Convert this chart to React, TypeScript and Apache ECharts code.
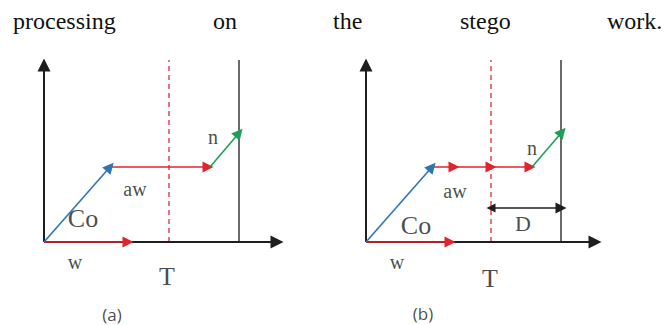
import { useEffect, useRef } from 'react';
import * as echarts from 'echarts';

// Sentence fragment above the figure (word, left edge in px)
const sentenceWords = ['processing', 'on', 'the', 'stego', 'work.'];
const sentenceX = [13, 213, 333, 460, 607];

// Panel (a): coordinates relative to the origin of its axes, y pointing up
const axesA = [[[0, 0], [0, 177]], [[0, 0], [233, 0]]];
const redA = [[[0, 0], [84, 0]], [[66, 75], [164, 75]]];
const blueA = [[[0, 0], [66, 75]]];
const greenA = [[[166, 75], [195, 109]]];
const thresholdA = [[[125, 0], [125, 182]]];
const boundaryA = [[[195, 0], [195, 182]]];
const labelsSmallA = [['n', 169, 105], ['aw', 91, 53], ['w', 31, -20]];
const labelsBigA = [['Co', 39, 24], ['T', 123, -34]];
const captionA = [['(a)', 68, -72]];

// Panel (b)
const axesB = [[[0, 0], [0, 177]], [[0, 0], [229, 0]]];
const redB = [[[0, 0], [84, 0]], [[66, 75], [88, 75]], [[88, 75], [125, 75]], [[125, 75], [164, 75]]];
const blueB = [[[0, 0], [66, 75]]];
const greenB = [[[166, 75], [196, 110]]];
const thresholdB = [[[125, 0], [125, 182]]];
const boundaryB = [[[195, 0], [195, 182]]];
const distanceB = [[[125, 34], [195, 34]]];
const labelsSmallB = [['n', 166, 94], ['aw', 89, 51], ['w', 31, -20]];
const labelsMidB = [['D', 157, 19]];
const labelsBigB = [['Co', 50, 17], ['T', 124, -36]];
const captionB = [['(b)', 57, -71]];

const RED = '#e3232b';
const BLUE = '#2f74b5';
const GREEN = '#1f9f55';
const BLACK = '#1e1e1e';
const GRAY = '#6a6a6a';
const DASH = '#e0454f';
const SERIF = '"Liberation Serif", "Times New Roman", serif';

type Seg = number[][][];

function segs(
  data: Seg,
  grid: number,
  color: string,
  width: number,
  arrows: 'end' | 'both' | 'none',
  size: number[] = [9, 11],
  dashed = false
) {
  return {
    type: 'lines',
    coordinateSystem: 'cartesian2d',
    xAxisIndex: grid,
    yAxisIndex: grid,
    silent: true,
    symbol: arrows === 'end' ? ['none', 'triangle'] : arrows === 'both' ? ['triangle', 'triangle'] : ['none', 'none'],
    symbolSize: size,
    symbolOffset: [0, '50%'],
    lineStyle: { color, width, type: dashed ? [5, 4] : 'solid', opacity: 1 },
    itemStyle: { color },
    data: data.map((c) => ({ coords: c })),
    z: 3,
  };
}

function labels(data: (string | number)[][], grid: number, size: number, family: string) {
  return {
    type: 'scatter',
    xAxisIndex: grid,
    yAxisIndex: grid,
    silent: true,
    symbolSize: 1,
    itemStyle: { color: 'rgba(0,0,0,0)' },
    label: {
      show: true,
      position: 'inside',
      formatter: '{b}',
      color: '#1a1a1a',
      fontSize: size,
      fontFamily: family,
      align: 'center',
      verticalAlign: 'middle',
    },
    data: data.map(([t, x, y]) => ({ name: t as string, value: [x, y] })),
    z: 5,
  };
}

export default function App() {
  const ref = useRef<HTMLDivElement>(null);
  useEffect(() => {
    if (!ref.current) return;
    const chart = echarts.init(ref.current, undefined, { renderer: 'svg' });
    const axisCfg = (grid: number, min: number, max: number) => ({
      type: 'value',
      gridIndex: grid,
      min,
      max,
      show: false,
    });
    chart.setOption({
      animation: false,
      backgroundColor: '#ffffff',
      grid: [
        { left: 0, top: 52, width: 300, height: 273 },
        { left: 322, top: 52, width: 300, height: 273 },
      ],
      xAxis: [axisCfg(0, -44, 256), axisCfg(1, -44, 256)],
      yAxis: [axisCfg(0, -83, 190), axisCfg(1, -83, 190)],
      graphic: sentenceWords.map((w, i) => ({
        type: 'text',
        x: sentenceX[i],
        y: 21,
        silent: true,
        style: {
          text: w,
          font: `24px ${SERIF}`,
          fill: '#111111',
          align: 'left',
          verticalAlign: 'middle',
          textAlign: 'left',
          textVerticalAlign: 'middle',
        },
      })),
      series: [
        // panel (a)
        segs(thresholdA, 0, DASH, 1.5, 'none', [0, 0], true),
        segs(boundaryA, 0, GRAY, 2, 'none', [0, 0]),
        segs(axesA, 0, BLACK, 2, 'end', [11, 13]),
        segs(redA, 0, RED, 1.6, 'end'),
        segs(blueA, 0, BLUE, 1.6, 'end'),
        segs(greenA, 0, GREEN, 1.6, 'end'),
        labels(labelsSmallA, 0, 20, SERIF),
        labels(labelsBigA, 0, 26, SERIF),
        labels(captionA, 0, 17, '"Open Sans", sans-serif'),
        // panel (b)
        segs(thresholdB, 1, DASH, 1.5, 'none', [0, 0], true),
        segs(boundaryB, 1, GRAY, 2, 'none', [0, 0]),
        segs(axesB, 1, BLACK, 2, 'end', [11, 13]),
        segs(redB, 1, RED, 1.6, 'end'),
        segs(blueB, 1, BLUE, 1.6, 'end'),
        segs(greenB, 1, GREEN, 1.6, 'end'),
        segs(distanceB, 1, BLACK, 1.6, 'both', [9, 11]),
        labels(labelsSmallB, 1, 20, SERIF),
        labels(labelsMidB, 1, 22, SERIF),
        labels(labelsBigB, 1, 26, SERIF),
        labels(captionB, 1, 17, '"Open Sans", sans-serif'),
      ],
    });
    return () => chart.dispose();
  }, []);
  return (
    <div
      ref={ref}
      style={{ position: 'fixed', left: 0, top: 0, width: 664, height: 325, background: '#fff' }}
    />
  );
}
